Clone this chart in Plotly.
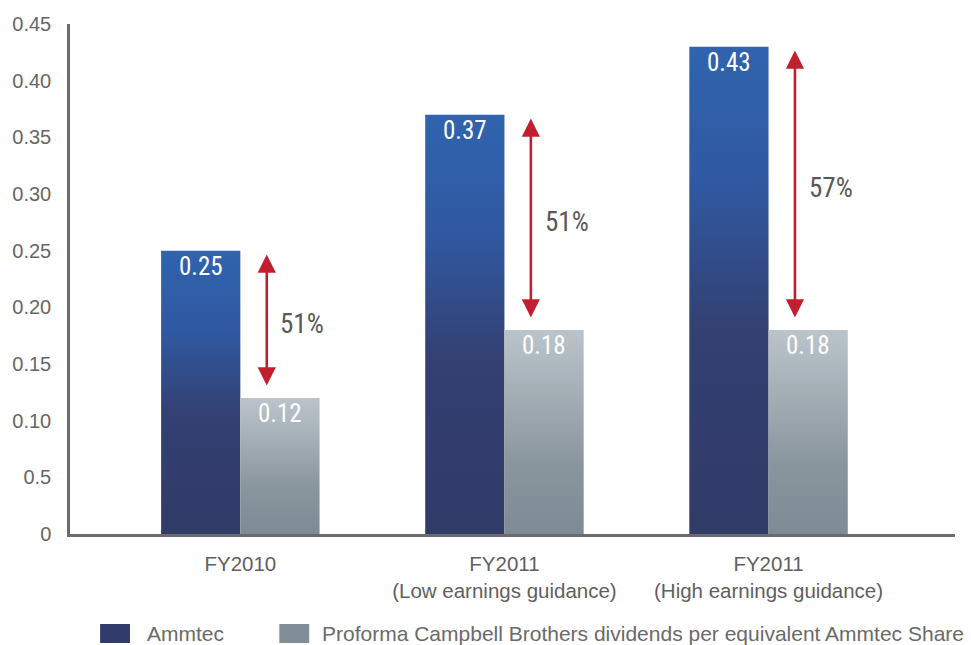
import plotly.graph_objects as go

# Earnings per share comparison
categories = ["FY2010", "FY2011<br>(Low earnings guidance)", "FY2011<br>(High earnings guidance)"]
series_names = ["Ammtec", "Proforma Campbell Brothers dividends per equivalent Ammtec Share"]
ammtec = [0.25, 0.37, 0.43]
proforma = [0.12, 0.18, 0.18]
value_labels_ammtec = ["0.25", "0.37", "0.43"]
value_labels_proforma = ["0.12", "0.18", "0.18"]
pct_labels = ["51%", "51%", "57%"]
y_tickvals = [0, 0.05, 0.10, 0.15, 0.20, 0.25, 0.30, 0.35, 0.40, 0.45]
y_ticktext = ["0", "0.5", "0.10", "0.15", "0.20", "0.25", "0.30", "0.35", "0.40", "0.45"]

BAR_W = 0.30
OFFSETS = [-0.15, 0.15]
GRADIENTS = [
    [[0, "#313b68"], [0.42, "#334072"], [0.72, "#3059a2"], [1, "#3063ae"]],
    [[0, "#7f8b94"], [0.35, "#8a969e"], [1, "#bbc4cb"]],
]
LEGEND_COLORS = ["#323c6b", "#828e97"]
NUM_FONT = "Liberation Sans Narrow, Roboto Condensed, DejaVu Sans Condensed, Roboto, sans-serif"
TXT_FONT = "Liberation Sans, Arial, Helvetica, sans-serif"

fig = go.Figure()

# Each bar is a filled polygon so it can carry its own vertical gradient
for s, values in enumerate([ammtec, proforma]):
    for i, v in enumerate(values):
        x0 = i + OFFSETS[s] - BAR_W / 2
        x1 = i + OFFSETS[s] + BAR_W / 2
        fig.add_trace(go.Scatter(
            x=[x0, x1, x1, x0, x0],
            y=[0, 0, v, v, 0],
            mode="lines",
            line=dict(width=0),
            fill="toself",
            fillgradient=dict(type="vertical", colorscale=GRADIENTS[s]),
            hoverinfo="skip",
            showlegend=False,
            name=series_names[s],
        ))

annotations = []
# Value labels just inside the top of each bar
for s, (values, labels) in enumerate([(ammtec, value_labels_ammtec), (proforma, value_labels_proforma)]):
    for i, (v, lab) in enumerate(zip(values, labels)):
        annotations.append(dict(
            x=i + OFFSETS[s], y=v, xref="x", yref="y",
            text=lab, showarrow=False, yanchor="top", yshift=1,
            font=dict(family=NUM_FONT, size=25, color="white"),
        ))

# Double-headed arrows and percentage gap labels
for i, (hi, lo, pct) in enumerate(zip(ammtec, proforma, pct_labels)):
    ax_x = i + 0.1
    annotations.append(dict(
        x=ax_x, y=lo + 0.011, ax=ax_x, ay=hi - 0.002,
        xref="x", yref="y", axref="x", ayref="y",
        text="", showarrow=True, arrowside="end+start",
        arrowhead=2, startarrowhead=2, arrowsize=1.4, startarrowsize=1.4,
        arrowwidth=2.6, arrowcolor="#c11f30", standoff=0, startstandoff=0,
    ))
    annotations.append(dict(
        x=i + 0.235, y=(hi + lo) / 2, xref="x", yref="y",
        text=pct, showarrow=False,
        font=dict(family=NUM_FONT, size=27, color="#595959"),
    ))

# Legend drawn as swatches with labels below the axis
shapes = []
legend_x = [0.034, 0.2365]
text_x = [0.0845, 0.2825]
for k, name in enumerate(series_names):
    shapes.append(dict(
        type="rect", xref="paper", yref="paper",
        x0=legend_x[k], x1=legend_x[k] + 0.0338, y0=-0.2137, y1=-0.1765,
        fillcolor=LEGEND_COLORS[k], line=dict(width=0),
    ))
    annotations.append(dict(
        x=text_x[k], y=-0.195, xref="paper", yref="paper",
        text=name, showarrow=False, xanchor="left", yanchor="middle",
        font=dict(family=TXT_FONT, size=21, color="#6a6a6a"),
    ))

fig.update_layout(
    width=971, height=645,
    margin=dict(l=67, r=16, t=24, b=111),
    paper_bgcolor="white", plot_bgcolor="white",
    showlegend=False,
    annotations=annotations,
    shapes=shapes,
    xaxis=dict(
        range=[-0.645, 2.706], tickvals=[0, 1, 2], ticktext=categories,
        showgrid=False, zeroline=False, showline=True,
        linecolor="#6b6b6b", linewidth=2.5, ticks="",
        ticklabelstandoff=10,
        tickfont=dict(family=TXT_FONT, size=20.5, color="#5f5f5f"),
        fixedrange=True,
    ),
    yaxis=dict(
        range=[0, 0.45], tickvals=y_tickvals, ticktext=y_ticktext,
        showgrid=False, zeroline=False, showline=True,
        linecolor="#6b6b6b", linewidth=2.5, ticks="",
        ticklabelstandoff=12,
        tickfont=dict(family=TXT_FONT, size=20, color="#666666"),
        fixedrange=True,
    ),
)

fig.write_html("out.html")
